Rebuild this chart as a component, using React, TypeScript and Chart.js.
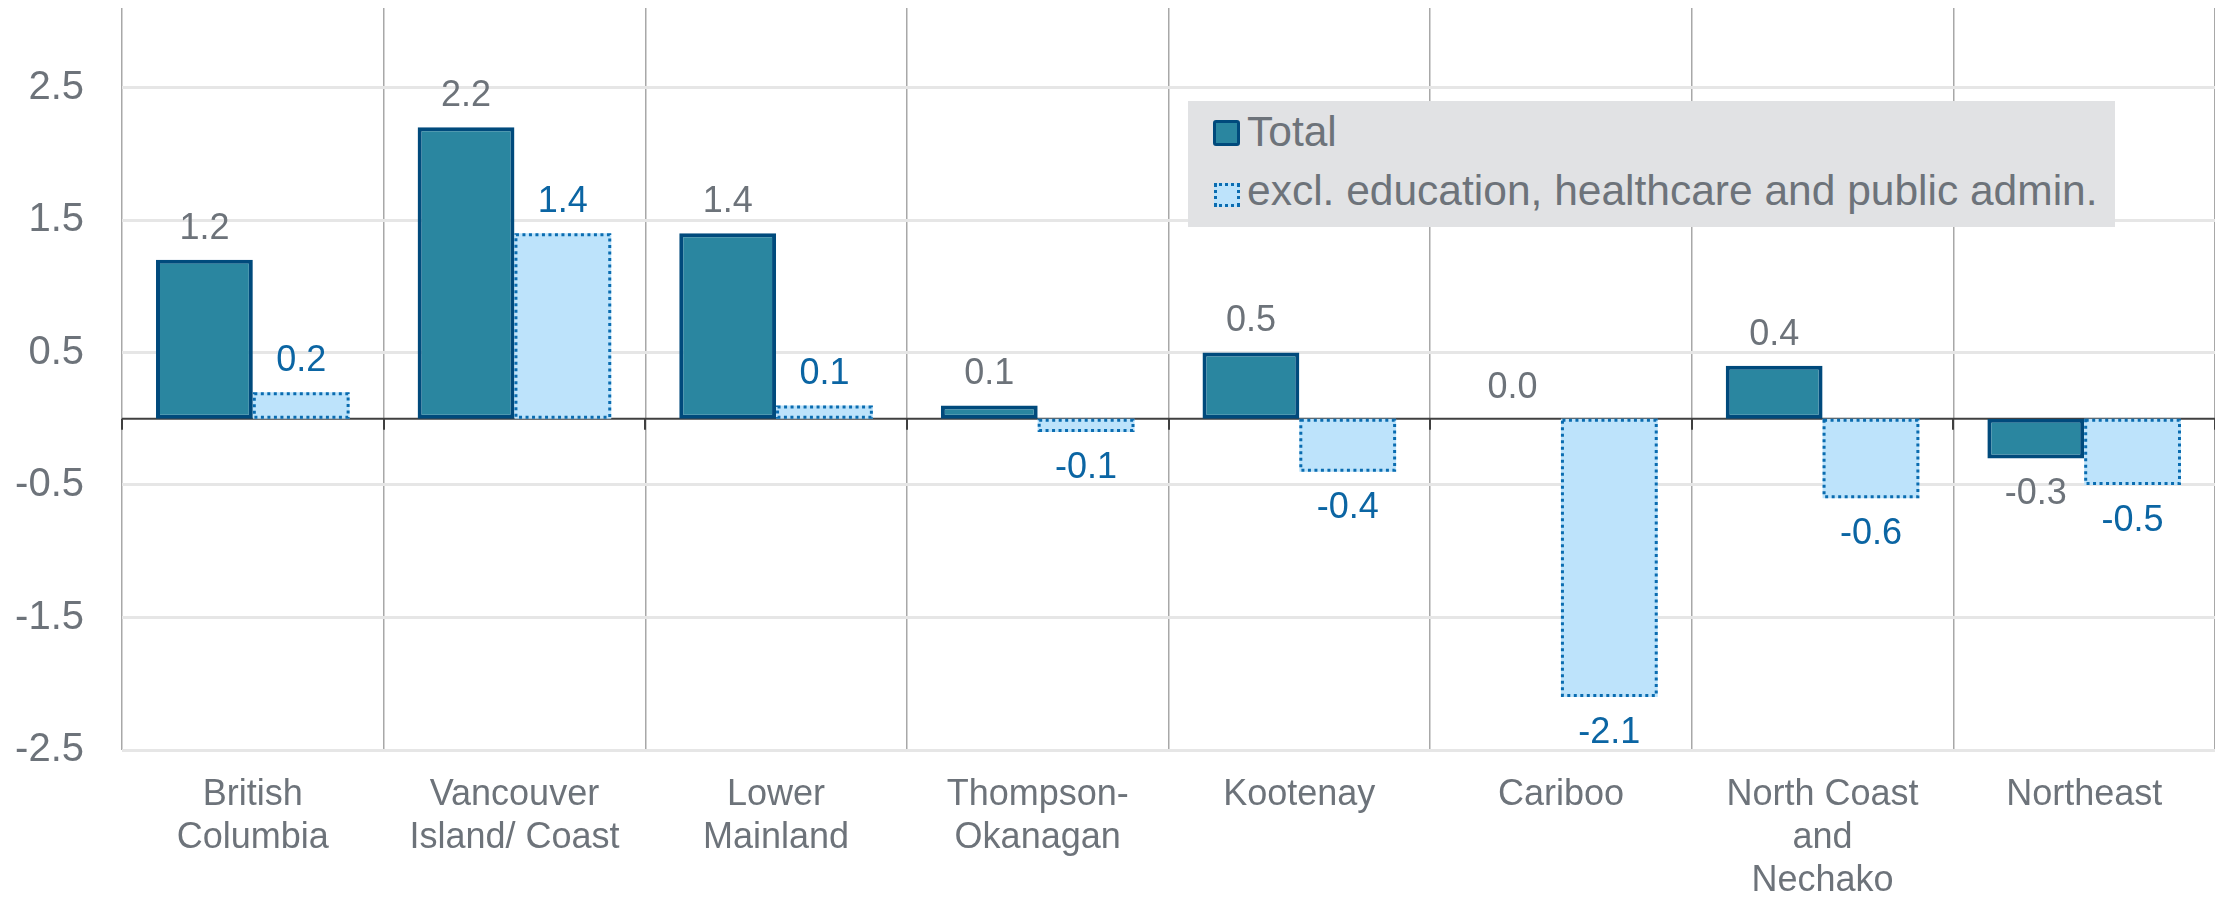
import React, { useEffect, useRef } from "react";
import { Chart, registerables } from "chart.js";

Chart.register(...registerables);

const categories: string[][] = [
  ["British", "Columbia"],
  ["Vancouver", "Island/ Coast"],
  ["Lower", "Mainland"],
  ["Thompson-", "Okanagan"],
  ["Kootenay"],
  ["Cariboo"],
  ["North Coast", "and", "Nechako"],
  ["Northeast"],
];
const totalValues = [1.2, 2.2, 1.4, 0.1, 0.5, 0.0, 0.4, -0.3];
const exclValues = [0.2, 1.4, 0.1, -0.1, -0.4, -2.1, -0.6, -0.5];
const yTickValues = [-2.5, -1.5, -0.5, 0.5, 1.5, 2.5];
const seriesLabels = ["Total", "excl. education, healthcare and public admin."];

const FONT = "'Liberation Sans', Arial, Helvetica, sans-serif";
const GRAY_TEXT = "#6d737a";
const BLUE_TEXT = "#0b65a3";
const TOTAL_FILL = "#2a86a0";
const TOTAL_BORDER = "#004a7c";
const EXCL_FILL = "#bde3fb";
const EXCL_BORDER = "#0a6cb0";

const zeroLinePlugin = {
  id: "zeroLine",
  beforeDatasetsDraw(chart: any) {
    const { ctx, chartArea, scales } = chart;
    const y = scales.y.getPixelForValue(0);
    const xs = scales.x;
    const step = xs.getPixelForValue(1) - xs.getPixelForValue(0);
    ctx.save();
    ctx.strokeStyle = "#404040";
    ctx.lineWidth = 2;
    ctx.beginPath();
    ctx.moveTo(chartArea.left, y);
    ctx.lineTo(chartArea.right, y);
    ctx.stroke();
    for (let i = 0; i <= categories.length; i++) {
      const x = Math.round(xs.getPixelForValue(i) - step / 2);
      ctx.beginPath();
      ctx.moveTo(x, y);
      ctx.lineTo(x, y + 11);
      ctx.stroke();
    }
    ctx.restore();
  },
};

const dottedBorderPlugin = {
  id: "dottedBorder",
  afterDatasetsDraw(chart: any) {
    const { ctx } = chart;
    const meta = chart.getDatasetMeta(1);
    ctx.save();
    ctx.strokeStyle = EXCL_BORDER;
    ctx.lineWidth = 3;
    ctx.setLineDash([3, 3.5]);
    meta.data.forEach((el: any) => {
      const { x, y, base, width } = el.getProps(["x", "y", "base", "width"], true);
      const top = Math.min(y, base);
      const bottom = Math.max(y, base);
      if (bottom - top < 1) return;
      ctx.strokeRect(x - width / 2 + 1.5, top + 1.5, width - 3, bottom - top - 3);
    });
    ctx.restore();
  },
};

const valueLabelPlugin = {
  id: "valueLabels",
  afterDatasetsDraw(chart: any) {
    const { ctx } = chart;
    ctx.save();
    ctx.font = `36px ${FONT}`;
    ctx.textAlign = "center";
    ctx.textBaseline = "middle";
    chart.data.datasets.forEach((ds: any, di: number) => {
      const meta = chart.getDatasetMeta(di);
      ctx.fillStyle = di === 0 ? GRAY_TEXT : BLUE_TEXT;
      meta.data.forEach((el: any, i: number) => {
        const v = ds.data[i] as number;
        const { x, y } = el.getProps(["x", "y"], true);
        const ty = v >= 0 ? y - 31 : y + 36;
        ctx.fillText(v.toFixed(1), x, ty);
      });
    });
    ctx.restore();
  },
};

export default function App() {
  const canvasRef = useRef<HTMLCanvasElement | null>(null);

  useEffect(() => {
    const canvas = canvasRef.current;
    if (!canvas) return;
    const chart = new Chart(canvas, {
      type: "bar",
      data: {
        labels: categories,
        datasets: [
          {
            label: seriesLabels[0],
            data: totalValues,
            backgroundColor: TOTAL_FILL,
            borderColor: TOTAL_BORDER,
            borderWidth: 4,
            borderSkipped: false,
            barPercentage: 1,
            categoryPercentage: 0.74,
          },
          {
            label: seriesLabels[1],
            data: exclValues,
            backgroundColor: EXCL_FILL,
            borderWidth: 0,
            barPercentage: 1,
            categoryPercentage: 0.74,
          },
        ],
      },
      options: {
        animation: false,
        responsive: false,
        maintainAspectRatio: false,
        devicePixelRatio: 1,
        layout: { padding: { top: 8, right: 0, bottom: 0, left: 0 } },
        plugins: {
          legend: { display: false },
          tooltip: { enabled: false },
        },
        scales: {
          x: {
            offset: true,
            grid: {
              display: true,
              offset: true,
              color: "#a8a8a8",
              lineWidth: 1.5,
              drawTicks: false,
            },
            border: { display: false },
            ticks: {
              autoSkip: false,
              maxRotation: 0,
              minRotation: 0,
              padding: 23,
              color: GRAY_TEXT,
              font: { family: FONT, size: 36, lineHeight: 1.2 },
            },
            afterFit(scale: any) {
              scale.height = 147;
              scale.paddingLeft = 0;
              scale.paddingRight = 0;
              scale.paddingTop = 0;
              scale.paddingBottom = 0;
            },
          },
          y: {
            min: -2.5,
            max: 3.1,
            grid: {
              color: "#e6e6e6",
              lineWidth: 3,
              drawTicks: false,
            },
            border: { display: false },
            ticks: {
              padding: 38,
              color: GRAY_TEXT,
              font: { family: FONT, size: 40 },
              callback: (v: any) => Number(v).toFixed(1),
            },
            afterBuildTicks(scale: any) {
              scale.ticks = yTickValues.map((v) => ({ value: v }));
            },
            afterFit(scale: any) {
              scale.width = 122;
              scale.paddingTop = 0;
              scale.paddingBottom = 0;
              scale.paddingLeft = 0;
              scale.paddingRight = 0;
            },
          },
        },
      },
      plugins: [zeroLinePlugin, dottedBorderPlugin, valueLabelPlugin],
    } as any);
    return () => chart.destroy();
  }, []);

  const textStyle: React.CSSProperties = {
    position: "absolute",
    left: 59,
    fontFamily: FONT,
    fontSize: 42.5,
    color: GRAY_TEXT,
    lineHeight: "48px",
    whiteSpace: "nowrap",
  };

  return (
    <div style={{ position: "absolute", left: 0, top: 0, width: 2215, height: 897, background: "#ffffff" }}>
      <canvas ref={canvasRef} width={2215} height={897} style={{ display: "block", width: 2215, height: 897 }} />
      <div
        style={{
          position: "absolute",
          left: 1188,
          top: 101,
          width: 927,
          height: 126,
          background: "#e1e2e4",
        }}
      >
        <div
          style={{
            position: "absolute",
            left: 25,
            top: 19,
            width: 27,
            height: 26,
            boxSizing: "border-box",
            borderRadius: 3,
            background: TOTAL_FILL,
            border: `3.5px solid ${TOTAL_BORDER}`,
          }}
        />
        <div style={{ ...textStyle, top: 7 }}>{seriesLabels[0]}</div>
        <div
          style={{
            position: "absolute",
            left: 26,
            top: 82,
            width: 26,
            height: 24,
            boxSizing: "border-box",
            background: EXCL_FILL,
            border: `3px dotted ${EXCL_BORDER}`,
          }}
        />
        <div style={{ ...textStyle, top: 66 }}>{seriesLabels[1]}</div>
      </div>
    </div>
  );
}
